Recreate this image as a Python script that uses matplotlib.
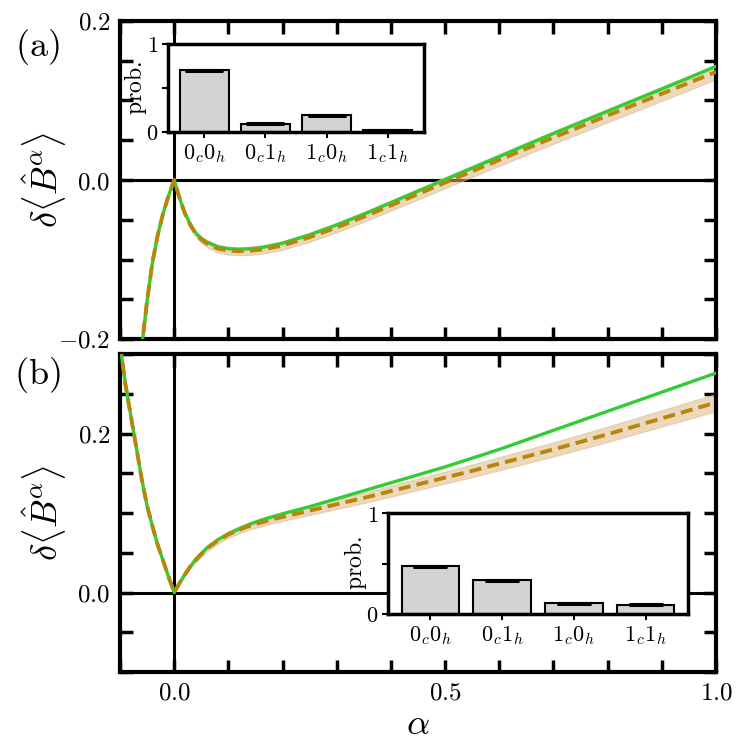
import matplotlib
matplotlib.use('Agg')
import matplotlib.pyplot as plt
from matplotlib.ticker import MultipleLocator, FuncFormatter, FixedLocator

plt.rcParams['mathtext.fontset'] = 'cm'
plt.rcParams['font.family'] = ['DejaVu Serif']

# ---------------- data ----------------
alpha = [-0.10, -0.09, -0.08, -0.07, -0.06, -0.05, -0.04, -0.03, -0.02, -0.01,
         0.00, 0.01, 0.02, 0.03, 0.04, 0.05, 0.06, 0.08, 0.10, 0.12, 0.14, 0.16,
         0.18, 0.20, 0.25, 0.30, 0.35, 0.40, 0.45, 0.50, 0.55, 0.60, 0.65, 0.70,
         0.75, 0.80, 0.85, 0.90, 0.95, 1.00]

# panel (a)
a_theory = [-0.490, -0.420, -0.350, -0.280, -0.210, -0.152, -0.103, -0.068, -0.041, -0.019,
            0.000, -0.023, -0.042, -0.056, -0.067, -0.0735, -0.078, -0.084, -0.0865, -0.0872,
            -0.0865, -0.085, -0.0825, -0.0795, -0.069, -0.0565, -0.043, -0.0285, -0.014, 0.0005,
            0.015, 0.0295, 0.044, 0.0585, 0.0725, 0.0865, 0.1005, 0.1145, 0.1285, 0.143]
a_exp = [-0.490, -0.420, -0.350, -0.280, -0.210, -0.152, -0.103, -0.068, -0.041, -0.019,
         0.000, -0.023, -0.0425, -0.057, -0.068, -0.075, -0.0798, -0.0862, -0.0888, -0.0896,
         -0.0890, -0.0876, -0.0852, -0.0823, -0.0720, -0.0597, -0.0463, -0.0320, -0.0177, -0.0033,
         0.0110, 0.0252, 0.0395, 0.0535, 0.0673, 0.0811, 0.0948, 0.1085, 0.1222, 0.1360]
a_err = [0.006, 0.006, 0.006, 0.006, 0.006, 0.005, 0.004, 0.003, 0.002, 0.001,
         0.000, 0.001, 0.002, 0.003, 0.0035, 0.004, 0.0045, 0.005, 0.005, 0.005,
         0.0052, 0.0053, 0.0054, 0.0055, 0.0058, 0.006, 0.0063, 0.0066, 0.0068, 0.007,
         0.0073, 0.0075, 0.0078, 0.008, 0.0083, 0.0085, 0.0088, 0.009, 0.0093, 0.0095]

# panel (b)
b_theory = [0.312, 0.262, 0.222, 0.183, 0.143, 0.109, 0.083, 0.059, 0.039, 0.019,
            0.000, 0.012, 0.023, 0.033, 0.042, 0.049, 0.056, 0.066, 0.074, 0.080,
            0.086, 0.091, 0.095, 0.099, 0.108, 0.118, 0.128, 0.138, 0.148, 0.158,
            0.169, 0.180, 0.192, 0.204, 0.216, 0.228, 0.240, 0.252, 0.264, 0.276]
b_exp = [0.312, 0.262, 0.222, 0.183, 0.143, 0.109, 0.083, 0.059, 0.039, 0.019,
         0.000, 0.012, 0.023, 0.033, 0.041, 0.048, 0.055, 0.065, 0.073, 0.079,
         0.084, 0.088, 0.092, 0.095, 0.103, 0.111, 0.119, 0.1275, 0.136, 0.1445,
         0.153, 0.162, 0.171, 0.180, 0.1895, 0.199, 0.209, 0.219, 0.229, 0.239]
b_err = [0.006, 0.005, 0.005, 0.004, 0.004, 0.003, 0.003, 0.002, 0.002, 0.001,
         0.000, 0.001, 0.002, 0.0025, 0.003, 0.003, 0.0035, 0.004, 0.004, 0.0045,
         0.0045, 0.005, 0.005, 0.005, 0.0055, 0.006, 0.0065, 0.007, 0.0072, 0.0075,
         0.008, 0.0083, 0.0087, 0.009, 0.0093, 0.0097, 0.010, 0.0103, 0.0107, 0.011]

# insets
states = [r'$0_c0_h$', r'$0_c1_h$', r'$1_c0_h$', r'$1_c1_h$']
prob_a = [0.70, 0.095, 0.188, 0.02]
prob_a_err = [0.006, 0.004, 0.005, 0.003]
prob_b = [0.471, 0.333, 0.105, 0.092]
prob_b_err = [0.006, 0.006, 0.004, 0.004]

GREEN = '#32cd32'
GOLD = '#b8860b'
BAND = '#deb887'

W, H = 747, 749
fig = plt.figure(figsize=(W / 100, H / 100), dpi=100)

def frac(x0, y0, x1, y1):
    return [x0 / W, 1 - y1 / H, (x1 - x0) / W, (y1 - y0) / H]

ax1 = fig.add_axes(frac(120, 21, 716, 339))
ax2 = fig.add_axes(frac(120, 354, 716, 672))

fmt = FuncFormatter(lambda v, p: r'$%.1f$' % (0.0 if abs(v) < 1e-9 else v))

def lo(v, e):
    return [a - b for a, b in zip(v, e)]

def hi(v, e):
    return [a + b for a, b in zip(v, e)]

for ax, th, ex, er, ylim in [(ax1, a_theory, a_exp, a_err, (-0.2, 0.2)),
                             (ax2, b_theory, b_exp, b_err, (-0.1, 0.3))]:
    ax.axhline(0, color='black', lw=2.2, zorder=1)
    ax.axvline(0, color='black', lw=2.2, zorder=1)
    ax.fill_between(alpha, lo(ex, er), hi(ex, er), color=BAND, alpha=0.55,
                    lw=0.8, zorder=2)
    ax.plot(alpha, th, color=GREEN, lw=2.4, zorder=3)
    ax.plot(alpha, ex, color=GOLD, lw=2.8, dashes=(3.1, 1.6), zorder=4)
    ax.set_xlim(-0.1, 1.0)
    ax.set_ylim(*ylim)
    for s in ax.spines.values():
        s.set_linewidth(3)
    ax.xaxis.set_major_locator(MultipleLocator(0.5))
    ax.xaxis.set_minor_locator(MultipleLocator(0.1))
    ax.yaxis.set_major_locator(MultipleLocator(0.2))
    ax.yaxis.set_minor_locator(MultipleLocator(0.05))
    ax.xaxis.set_major_formatter(fmt)
    ax.yaxis.set_major_formatter(fmt)
    ax.tick_params(which='both', direction='in', top=True, right=True,
                   length=9, width=2.5, labelsize=18, pad=7)
    ax.set_ylabel(r'$\delta\langle\hat{B}^{\alpha}\rangle$', fontsize=26)
    ax.yaxis.set_label_coords(-0.085, 0.5)

ax1.tick_params(labelbottom=False)
ax2.set_xlabel(r'$\alpha$', fontsize=26, labelpad=2)

fig.text(37 / W, 1 - 47 / H, r'$\mathrm{(a)}$', fontsize=26, ha='center', va='center')
fig.text(37 / W, 1 - 375 / H, r'$\mathrm{(b)}$', fontsize=26, ha='center', va='center')

ins1 = fig.add_axes(frac(168, 44, 424, 132))
ins2 = fig.add_axes(frac(388, 513, 688, 614))
for ins, p, pe, cap in [(ins1, prob_a, prob_a_err, 14), (ins2, prob_b, prob_b_err, 12)]:
    x = list(range(len(states)))
    ins.bar(x, p, width=0.8, color='lightgray', edgecolor='black', lw=1.5, zorder=2)
    ins.errorbar(x, p, yerr=pe, fmt='none', ecolor='black', capsize=cap,
                 capthick=2.2, elinewidth=1.5, zorder=3)
    ins.set_ylim(0, 1)
    ins.set_xticks(x)
    ins.set_xticklabels(states, fontsize=16)
    ins.yaxis.set_major_locator(FixedLocator([0, 1]))
    ins.yaxis.set_minor_locator(FixedLocator([0.5]))
    ins.set_yticklabels([r'$0$', r'$1$'], fontsize=16)
    ins.tick_params(which='both', direction='out', length=4, width=1.5, pad=3)
    ins.set_ylabel(r'$\mathrm{prob.}$', fontsize=17, labelpad=-2)
    for s in ins.spines.values():
        s.set_linewidth(2.5)

fig.savefig('out.png', dpi=100)
